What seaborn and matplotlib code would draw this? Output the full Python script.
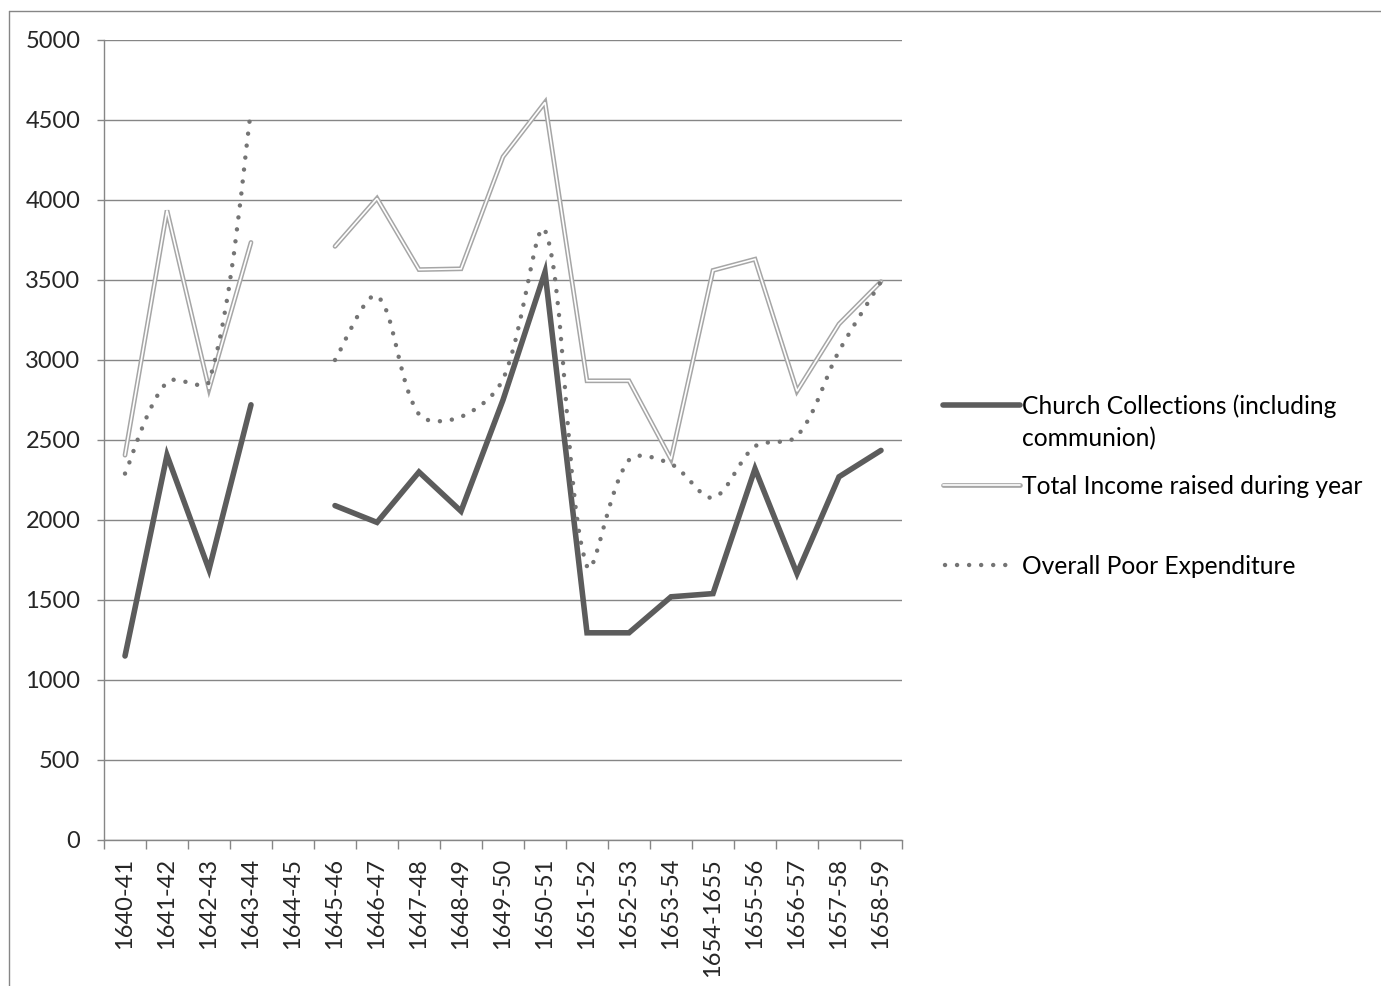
import numpy as np
import pandas as pd
import matplotlib
matplotlib.use("Agg")
import matplotlib.pyplot as plt
from matplotlib.path import Path
from matplotlib.patches import PathPatch
from matplotlib.lines import Line2D
import seaborn as sns

# ---- data -------------------------------------------------------------
years = ["1640-41", "1641-42", "1642-43", "1643-44", "1644-45", "1645-46",
         "1646-47", "1647-48", "1648-49", "1649-50", "1650-51", "1651-52",
         "1652-53", "1653-54", "1654-1655", "1655-56", "1656-57", "1657-58",
         "1658-59"]
church = [1150, 2405, 1690, 2720, np.nan, 2090, 1985, 2300, 2055, 2750,
          3550, 1295, 1295, 1520, 1540, 2320, 1665, 2270, 2435]
income = [2405, 3935, 2820, 3735, np.nan, 3710, 4010, 3565, 3570, 4270,
          4610, 2870, 2870, 2380, 3560, 3630, 2805, 3225, 3490]
poor = [2290, 2862, 2865, 4555, np.nan, 3000, 3400, 2660, 2645, 2880,
        3810, 1710, 2375, 2350, 2140, 2460, 2525, 3055, 3490]
yticks = list(range(0, 5001, 500))

labels = ["Church Collections (including\ncommunion)",
          "Total Income raised during year",
          "Overall Poor Expenditure"]

df = pd.DataFrame({"year": years, "pos": np.arange(len(years)),
                   "church": church, "income": income, "poor": poor})

# ---- style ------------------------------------------------------------
sns.set_style("white")
plt.rcParams["font.family"] = ["Lato", "DejaVu Sans"]
AXIS = "#868686"
C_CHURCH = "#5c5c5c"
C_INCOME = "#a6a6a6"
C_POOR = "#747474"
FS = 17
FS_LEG = 17.7

W, H = 1381, 986
fig = plt.figure(figsize=(W / 100, H / 100), dpi=100)


def fx(x):
    return x / W


def fy(y):
    return 1 - y / H


ax = fig.add_axes([fx(104), fy(840), fx(902) - fx(104), fy(40) - fy(840)])
ax.set_xlim(-0.5, len(years) - 0.5)
ax.set_ylim(0, 5000)


def segments(col):
    """Split a column into runs of consecutive non-missing values."""
    mask = df[col].notna()
    grp = (mask != mask.shift()).cumsum()
    return [g for _, g in df[mask].groupby(grp[mask])]


# Church collections: thick dark line
for seg in segments("church"):
    sns.lineplot(data=seg, x="pos", y="church", ax=ax, color=C_CHURCH,
                 lw=4.0, solid_capstyle="round", solid_joinstyle="miter",
                 zorder=4)

# Total income: double line (grey outline with white core)
for seg in segments("income"):
    sns.lineplot(data=seg, x="pos", y="income", ax=ax, color=C_INCOME,
                 lw=3.4, solid_capstyle="round", solid_joinstyle="miter",
                 zorder=3)
    sns.lineplot(data=seg, x="pos", y="income", ax=ax, color="white",
                 lw=1.2, solid_capstyle="round", solid_joinstyle="miter",
                 zorder=3.1)


# Poor expenditure: smoothed dotted curve. Bezier control points are
# built in screen space, with tangent lengths scaled by neighbouring
# chord lengths so short segments do not overshoot.
def smooth_path(xs, ys):
    data_pts = np.column_stack([xs, ys]).astype(float)
    pts = ax.transData.transform(data_pts)
    n = len(pts)
    out_ctrl, in_ctrl = [], []
    for i in range(n):
        prev_p = pts[i - 1] if i > 0 else None
        next_p = pts[i + 1] if i < n - 1 else None
        if prev_p is None:
            t = (next_p - pts[i]) / 6
            out_ctrl.append(pts[i] + t)
            in_ctrl.append(pts[i] - t)
            continue
        if next_p is None:
            t = (pts[i] - prev_p) / 6
            out_ctrl.append(pts[i] + t)
            in_ctrl.append(pts[i] - t)
            continue
        tan = next_p - prev_p
        d_in = np.hypot(*(pts[i] - prev_p))
        d_out = np.hypot(*(next_p - pts[i]))
        tot = d_in + d_out
        out_ctrl.append(pts[i] + tan * (d_out / tot) / 3)
        in_ctrl.append(pts[i] - tan * (d_in / tot) / 3)
    verts = [pts[0]]
    codes = [Path.MOVETO]
    for i in range(n - 1):
        verts += [out_ctrl[i], in_ctrl[i + 1], pts[i + 1]]
        codes += [Path.CURVE4] * 3
    verts = ax.transData.inverted().transform(np.array(verts))
    return Path(verts, codes)


DOTS = (0, (0.01, 2.7))
LW_DOT = 3.2
for seg in segments("poor"):
    patch = PathPatch(smooth_path(seg["pos"], seg["poor"]), fill=False,
                      edgecolor=C_POOR, lw=LW_DOT, linestyle=DOTS,
                      capstyle="round", zorder=5)
    ax.add_patch(patch)

# ---- axes -------------------------------------------------------------
ax.set_xlim(-0.5, len(years) - 0.5)
ax.set_ylim(0, 5000)
ax.set_yticks(yticks)
ax.set_yticklabels([str(v) for v in yticks], fontsize=FS)
ax.set_xticks(np.arange(len(years)))
ax.set_xticklabels(years, rotation=90, fontsize=FS, va="top", ha="center")
ax.set_xticks(np.arange(-0.5, len(years)), minor=True)
ax.tick_params(axis="x", which="major", length=0, pad=13)
ax.tick_params(axis="x", which="minor", length=6.5, width=1.0, color=AXIS,
               direction="out", bottom=True)
ax.tick_params(axis="y", length=5, width=1.0, color=AXIS, pad=12, left=True)
ax.set_xlabel("")
ax.set_ylabel("")
ax.yaxis.grid(True, color=AXIS, lw=1.0)
ax.set_axisbelow(True)
for side in ("top", "right"):
    ax.spines[side].set_visible(False)
for side in ("left", "bottom"):
    ax.spines[side].set_color(AXIS)
    ax.spines[side].set_linewidth(1.0)
ax.spines["bottom"].set_zorder(6)

# ---- legend -----------------------------------------------------------
hx0, hx1, tx = fx(943), fx(1020), fx(1022)
rows = [405, 485, 565]
LINE_STEP = 32
fig.add_artist(Line2D([hx0, hx1], [fy(rows[0])] * 2, color=C_CHURCH, lw=4.0,
                      solid_capstyle="round"))
fig.add_artist(Line2D([hx0, hx1], [fy(rows[1])] * 2, color=C_INCOME, lw=3.4,
                      solid_capstyle="round"))
fig.add_artist(Line2D([hx0, hx1], [fy(rows[1])] * 2, color="white", lw=1.2,
                      solid_capstyle="round"))
fig.add_artist(Line2D([hx0 + fx(2), fx(1014)], [fy(rows[2])] * 2,
                      color=C_POOR, lw=LW_DOT, linestyle=DOTS,
                      dash_capstyle="round"))
for y, lab in zip(rows, labels):
    # one text object per label line keeps the line pitch exact
    for k, line in enumerate(lab.split("\n")):
        fig.text(tx, fy(y + 8.8 + k * LINE_STEP), line, fontsize=FS_LEG,
                 va="baseline", ha="left", color="black")

# ---- chart-area frame ---------------------------------------------------
fig.add_artist(Line2D([fx(8.5), 1], [fy(11)] * 2, color=AXIS, lw=1.0))
fig.add_artist(Line2D([fx(8.5)] * 2, [fy(11), 0], color=AXIS, lw=1.0))

fig.savefig("out.png", dpi=100)
